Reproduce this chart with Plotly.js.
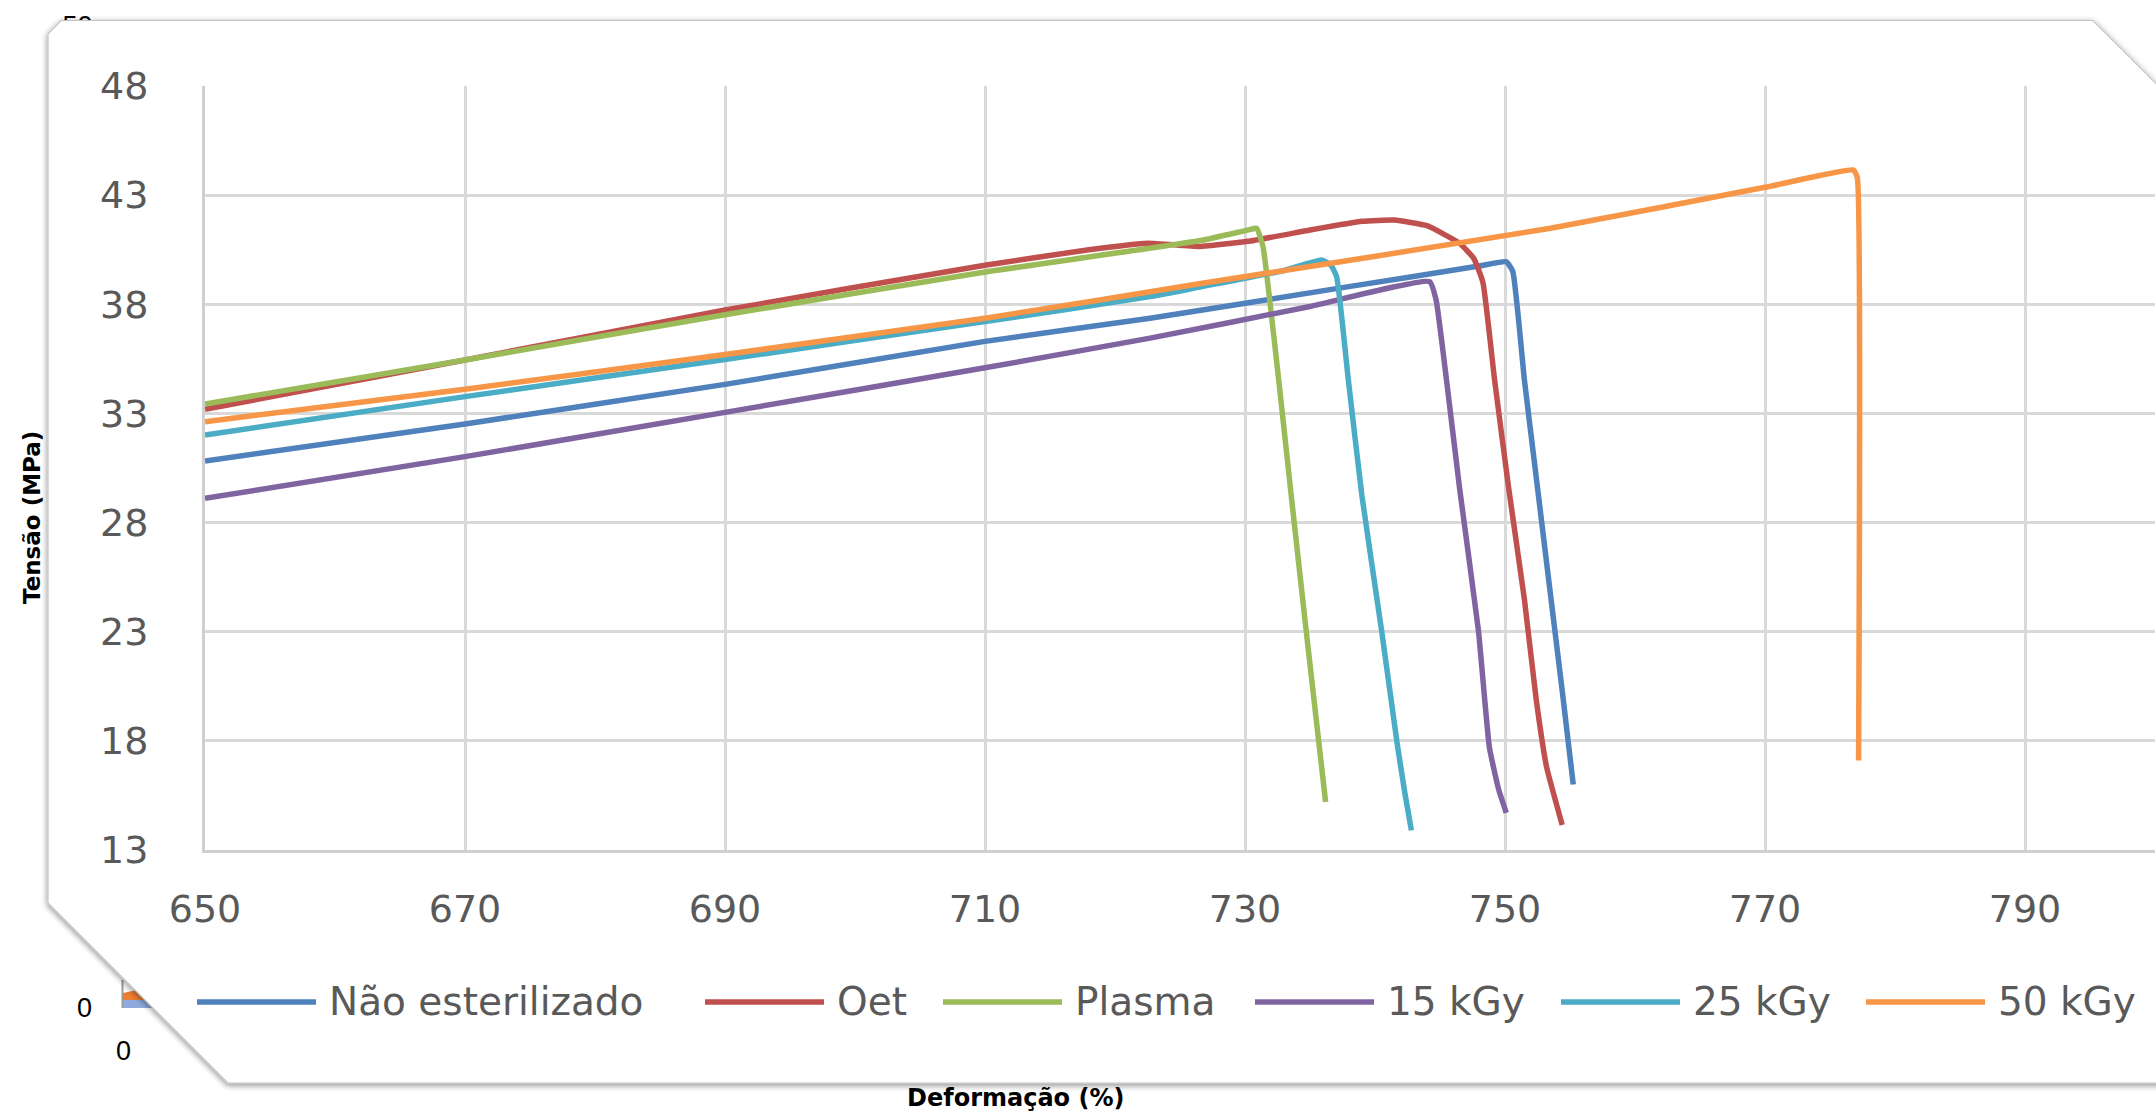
<!DOCTYPE html>
<html>
<head>
<meta charset="utf-8">
<script src="https://cdn.plot.ly/plotly-3.0.1.min.js"></script>
<style>
html,body{margin:0;padding:0;background:#fff;overflow:hidden;}
#wrap{position:relative;width:2156px;height:1118px;}
#under,#card,#chart{position:absolute;left:0;top:0;width:2156px;height:1118px;}
</style>
</head>
<body>
<div id="wrap">
<svg id="under" width="2156" height="1118">
  <text x="77.5" y="34.5" text-anchor="middle" font-family="Liberation Sans" font-size="27" fill="#000">50</text>
  <line x1="122.5" y1="980" x2="122.5" y2="1008" stroke="#999" stroke-width="2"/>
  <polygon points="123,993 160,985 160,1000 123,1002" fill="#ed7d31"/>
  <rect x="123" y="1000" width="37" height="8" fill="#8ea9db"/>
  <text x="84.5" y="1017" text-anchor="middle" font-family="Liberation Sans" font-size="27" fill="#000">0</text>
  <text x="123.5" y="1060" text-anchor="middle" font-family="Liberation Sans" font-size="27" fill="#000">0</text>
</svg>
<svg id="card" width="2156" height="1118">
  <defs>
    <filter id="sh" x="-5%" y="-5%" width="110%" height="115%">
      <feDropShadow dx="0" dy="2" stdDeviation="3" flood-color="#000" flood-opacity="0.45"/>
    </filter>
  </defs>
  <polygon points="48,34 61,20.5 2093,20.5 2200,127.5 2200,1083 228,1083 48,903" fill="#fff" stroke="#c4c4c4" stroke-width="1.2" filter="url(#sh)"/>
</svg>
<div id="chart"></div>
</div>
<script>
// ---- data ----
const seriesNames = ['Não esterilizado', 'Oet', 'Plasma', '15 kGy', '25 kGy', '50 kGy'];

const naoEsterilizadoX = [650, 670, 690, 710, 722.7, 738.1, 748, 750.1, 750.6, 751.5, 752.5, 753.5, 754.4, 755.25];
const naoEsterilizadoY = [30.82, 32.52, 34.33, 36.3, 37.36, 38.82, 39.75, 39.95, 39.5, 34.5, 29.6, 24.7, 20.3, 16.0];

const oetX = [650, 670, 690, 710, 718, 722.5, 726.5, 730.4, 735, 739, 741.5, 744, 746.5, 747.6, 748.3, 749.2, 750.3, 751.5, 752.4, 753.2, 754.4];
const oetY = [33.19, 35.45, 37.74, 39.79, 40.5, 40.8, 40.65, 40.9, 41.4, 41.8, 41.86, 41.6, 40.8, 40.1, 39.0, 34.53, 29.5, 24.45, 19.9, 16.8, 14.15];

const plasmaX = [650, 670, 690, 710, 726.6, 730.2, 730.9, 731.4, 731.9, 732.6, 733.6, 734.7, 736.2];
const plasmaY = [33.43, 35.45, 37.52, 39.48, 40.92, 41.4, 41.48, 40.6, 38.2, 34.5, 29.0, 23.08, 15.2];

const kgy15X = [650, 670, 690, 710, 722.7, 735, 744.2, 744.7, 745.5, 746.5, 747.95, 748.8, 749.5, 750.1];
const kgy15Y = [29.11, 31.02, 33.05, 35.09, 36.45, 37.9, 39.04, 38.2, 34.53, 29.6, 23.08, 17.7, 15.8, 14.7];

const kgy25X = [650, 670, 690, 710, 722.7, 726.6, 733, 735.9, 736.6, 737.05, 737.95, 739, 740.5, 741.7, 742.3, 742.8];
const kgy25Y = [32.01, 33.77, 35.47, 37.21, 38.35, 38.8, 39.55, 40.03, 39.8, 39.26, 34.53, 29.2, 23.08, 17.9, 15.6, 13.9];

const kgy50X = [650, 670, 690, 710, 726.6, 753.5, 770, 776.8, 777.1, 777.2];
const kgy50Y = [32.62, 34.11, 35.7, 37.36, 38.95, 41.48, 43.36, 44.15, 43.8, 17.1];

const xTickVals = [650, 670, 690, 710, 730, 750, 770, 790];
const yTickVals = [13, 18, 23, 28, 33, 38, 43, 48];
const xTitle = 'Deformação (%)';
const yTitle = 'Tensão (MPa)';

// ---- styling / layout ----
const colors = ['#4F81BD', '#C0504D', '#9BBB59', '#8064A2', '#4BACC6', '#F79646'];
const xs = [naoEsterilizadoX, oetX, plasmaX, kgy15X, kgy25X, kgy50X];
const ys = [naoEsterilizadoY, oetY, plasmaY, kgy15Y, kgy25Y, kgy50Y];

const W = 2156, H = 1118;
const M = {l: 205, r: 1, t: 86, b: 268};
const plotW = W - M.l - M.r, plotH = H - M.t - M.b;
const px2x = p => (p - M.l) / plotW;
const px2y = p => (H - M.b - p) / plotH;

const traces = seriesNames.map((n, i) => ({
  type: 'scatter', mode: 'lines', name: n,
  x: xs[i], y: ys[i],
  line: {color: colors[i], width: 5.5, shape: 'spline', smoothing: 0.4},
  hoverinfo: 'skip'
}));

// manual legend (Excel style, long line samples)
const legendLineStart = [197, 705, 943, 1255, 1561, 1866];
const legendLineLen = 119;
const legendTextGap = 11;
const legendYpx = 1002;
const shapes = [];
const annotations = [];
seriesNames.forEach((n, i) => {
  shapes.push({
    type: 'line', xref: 'paper', yref: 'paper',
    x0: px2x(legendLineStart[i]), x1: px2x(legendLineStart[i] + legendLineLen),
    y0: px2y(legendYpx), y1: px2y(legendYpx),
    line: {color: colors[i], width: 5.5}
  });
  annotations.push({
    xref: 'paper', yref: 'paper',
    x: px2x(legendLineStart[i] + legendLineLen + legendTextGap), y: px2y(legendYpx),
    xanchor: 'left', yanchor: 'middle', showarrow: false,
    text: n, font: {family: 'DejaVu Sans', size: 39, color: '#595959'}
  });
});
annotations.push({
  xref: 'paper', yref: 'paper', x: px2x(32), y: px2y(518),
  xanchor: 'center', yanchor: 'middle', showarrow: false, textangle: -90,
  text: '<b>' + yTitle + '</b>', font: {family: 'DejaVu Sans', size: 23, color: '#000'}
});
annotations.push({
  xref: 'paper', yref: 'paper', x: px2x(1015), y: px2y(1098),
  xanchor: 'center', yanchor: 'middle', showarrow: false,
  text: '<b>' + xTitle + '</b>', font: {family: 'DejaVu Sans', size: 24, color: '#000'}
});

const axisCommon = {
  showgrid: true, gridcolor: '#d9d9d9', gridwidth: 3,
  zeroline: false, showline: true, linecolor: '#cfcfcf', linewidth: 3,
  ticks: '', tickmode: 'array',
  tickfont: {family: 'DejaVu Sans', size: 38, color: '#595959'}
};

const layout = {
  width: W, height: H,
  margin: {l: M.l, r: M.r, t: M.t, b: M.b, pad: 0},
  paper_bgcolor: 'rgba(0,0,0,0)', plot_bgcolor: 'rgba(0,0,0,0)',
  showlegend: false,
  xaxis: Object.assign({}, axisCommon, {
    range: [650, 800], tickvals: xTickVals, ticktext: xTickVals.map(String),
    ticklabelstandoff: 23
  }),
  yaxis: Object.assign({}, axisCommon, {
    range: [13, 48], tickvals: yTickVals, ticktext: yTickVals.map(String),
    ticklabelstandoff: 46
  }),
  shapes: shapes,
  annotations: annotations
};

Plotly.newPlot('chart', traces, layout, {displayModeBar: false, staticPlot: true});
</script>
</body>
</html>
